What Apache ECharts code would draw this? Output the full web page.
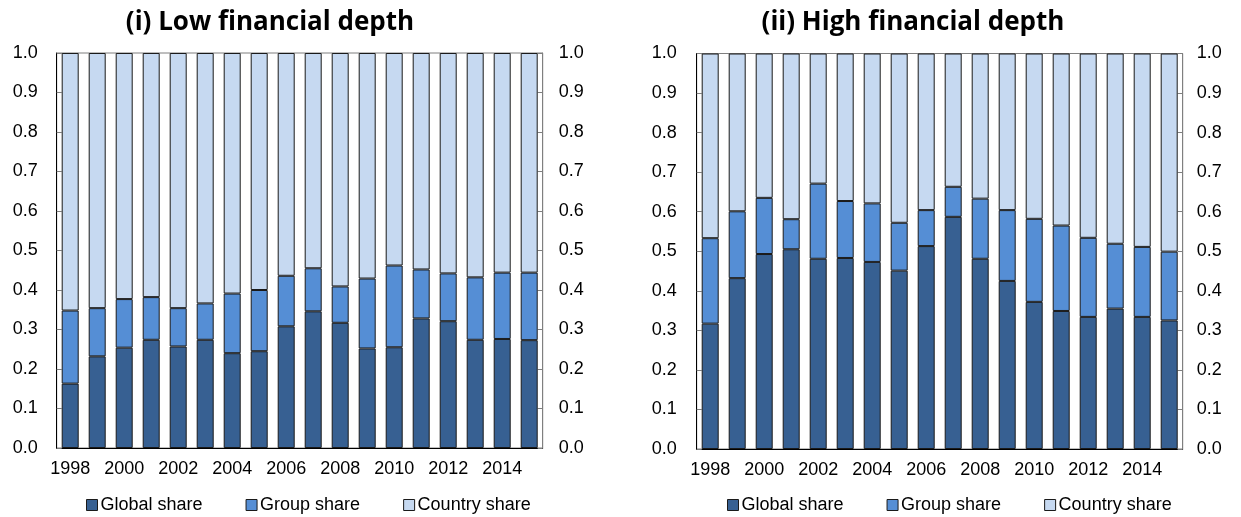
<!DOCTYPE html>
<html><head><meta charset="utf-8">
<script src="https://cdn.jsdelivr.net/npm/echarts@6/dist/echarts.min.js"></script>
<style>html,body{margin:0;padding:0;background:#fff}#c{width:1241px;height:517px}</style>
</head><body><div id="c"></div>
<script>
const years = ['1998','1999','2000','2001','2002','2003','2004','2005','2006','2007','2008','2009','2010','2011','2012','2013','2014','2015'];
const seriesNames = ['Global share', 'Group share', 'Country share'];
const titles = ['(i) Low financial depth', '(ii) High financial depth'];

const lowGlobal  = [0.163,0.232,0.254,0.274,0.257,0.274,0.240,0.245,0.308,0.346,0.317,0.252,0.255,0.328,0.321,0.274,0.276,0.273];
const lowGroup   = [0.185,0.122,0.123,0.108,0.097,0.092,0.151,0.155,0.128,0.109,0.092,0.177,0.207,0.124,0.121,0.158,0.168,0.171];
const lowCountry = [0.652,0.646,0.623,0.618,0.646,0.634,0.609,0.600,0.564,0.545,0.591,0.571,0.538,0.548,0.558,0.568,0.556,0.556];

const highGlobal  = [0.317,0.432,0.493,0.505,0.481,0.483,0.473,0.451,0.513,0.587,0.481,0.425,0.372,0.349,0.334,0.355,0.334,0.325];
const highGroup   = [0.216,0.169,0.142,0.076,0.190,0.144,0.148,0.121,0.091,0.076,0.152,0.179,0.210,0.216,0.200,0.164,0.177,0.174];
const highCountry = [0.467,0.399,0.365,0.419,0.329,0.373,0.379,0.428,0.396,0.337,0.367,0.396,0.418,0.435,0.466,0.481,0.489,0.501];

const colors = ['#376092', '#558ED5', '#C6D9F1'];
const FONT = 'Liberation Sans, Arial, sans-serif';

const chart = echarts.init(document.getElementById('c'), null, {renderer: 'canvas'});

const grids = [
  {left: 56.7, width: 486, top: 53, height: 395, show: true, borderColor: '#7f7f7f', borderWidth: 1},
  {left: 696.7, width: 486, top: 53.5, height: 395.5, show: true, borderColor: '#7f7f7f', borderWidth: 1}
];

function yAx(gi, pos, margin) {
  return {
    type: 'value', gridIndex: gi, position: pos, min: 0, max: 1, interval: 0.1,
    axisLine: {show: true, lineStyle: {color: pos === 'left' ? '#000' : '#7f7f7f', width: 1}},
    axisTick: {show: true, inside: true, length: 5, lineStyle: {color: '#7f7f7f'}},
    splitLine: {show: false},
    axisLabel: {color: '#000', fontSize: 18, fontFamily: FONT, margin: margin,
      formatter: v => v.toFixed(1)}
  };
}
function xAx(gi) {
  return {
    type: 'category', gridIndex: gi, data: years,
    axisLine: {show: true, lineStyle: {color: '#000', width: 1}},
    axisTick: {show: false},
    axisLabel: {color: '#000', fontSize: 18, fontFamily: FONT, interval: 1, margin: 12}
  };
}
function bars(gi, arrs) {
  return arrs.map((d, i) => ({
    name: seriesNames[i], type: 'bar', stack: 's' + gi,
    xAxisIndex: gi, yAxisIndex: gi * 2, data: d, barWidth: 17,
    itemStyle: {color: colors[i], borderColor: '#1a1a1a', borderWidth: 1},
    emphasis: {disabled: true}
  }));
}
function legend(left) {
  return {
    left: left, top: 491, itemWidth: 11, itemHeight: 11, itemGap: 43,
    icon: 'rect', data: seriesNames, selectedMode: false,
    textStyle: {color: '#000', fontSize: 18, fontFamily: FONT, padding: [0, 0, 0, -2]},
    itemStyle: {borderColor: '#1a1a1a', borderWidth: 1}
  };
}

chart.setOption({
  animation: false,
  backgroundColor: '#fff',
  title: [
    {text: titles[0], left: 265, top: 5, textAlign: 'center',
     textStyle: {fontFamily: 'Open Sans', fontWeight: 'bold', fontSize: 26, color: '#000'}},
    {text: titles[1], left: 908, top: 5, textAlign: 'center',
     textStyle: {fontFamily: 'Open Sans', fontWeight: 'bold', fontSize: 26, color: '#000'}}
  ],
  legend: [legend(81), legend(722)],
  grid: grids,
  xAxis: [xAx(0), xAx(1)],
  yAxis: [yAx(0, 'left', 19), yAx(0, 'right', 16), yAx(1, 'left', 20), yAx(1, 'right', 14)],
  series: [...bars(0, [lowGlobal, lowGroup, lowCountry]), ...bars(1, [highGlobal, highGroup, highCountry])]
});
</script></body></html>
